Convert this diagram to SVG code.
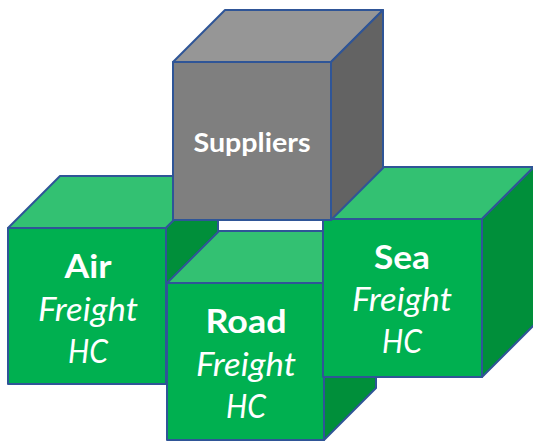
<svg xmlns="http://www.w3.org/2000/svg" width="533" height="443" viewBox="0 0 533 443">
<style>
.e{stroke:#2F5597;stroke-width:2;stroke-linejoin:round}
.gf{fill:#00B050}.gt{fill:#33C172}.gr{fill:#008F3A}
.sf{fill:#7F7F7F}.st{fill:#969696}.sr{fill:#636363}
.t{font-family:Lato,"Open Sans",sans-serif;fill:#fff;text-anchor:middle}
.b{font-weight:bold;font-size:33px}
.i{font-style:italic;font-size:32px}
</style>
<rect width="533" height="443" fill="#fff"/>
<g id="air">
<polygon class="e gt" points="8,228 60,176 218,176 166,228"/>
<polygon class="e gr" points="166,228 218,176 218,332 166,384"/>
<rect class="e gf" x="8" y="228" width="158" height="156"/>
<text class="t b" x="88" y="278" textLength="47" lengthAdjust="spacingAndGlyphs">Air</text>
<text class="t i" x="88" y="321" textLength="100" lengthAdjust="spacingAndGlyphs">Freight</text>
<text class="t i" x="88" y="363" textLength="40" lengthAdjust="spacingAndGlyphs">HC</text>
</g>
<g id="road">
<polygon class="e gt" points="167,283 219,231 377,231 325,283"/>
<polygon class="e gr" points="324,283 376,231 376,388 324,440"/>
<rect class="e gf" x="167" y="283" width="157" height="157"/>
<text class="t b" x="246" y="333" textLength="81" lengthAdjust="spacingAndGlyphs">Road</text>
<text class="t i" x="246" y="376" textLength="100" lengthAdjust="spacingAndGlyphs">Freight</text>
<text class="t i" x="246" y="418" textLength="40" lengthAdjust="spacingAndGlyphs">HC</text>
</g>
<g id="sea">
<polygon class="e gt" points="323,219 375,167 534,167 482,219"/>
<polygon class="e gr" points="482,219 534,167 534,325 482,377"/>
<rect class="e gf" x="323" y="219" width="159" height="158"/>
<text class="t b" x="402" y="269" textLength="56" lengthAdjust="spacingAndGlyphs">Sea</text>
<text class="t i" x="402" y="311" textLength="100" lengthAdjust="spacingAndGlyphs">Freight</text>
<text class="t i" x="402" y="353" textLength="40" lengthAdjust="spacingAndGlyphs">HC</text>
</g>
<g id="suppliers">
<polygon class="e st" points="173,62 225,10 383,10 331,62"/>
<polygon class="e sr" points="331,62 383,10 383,168 331,220"/>
<rect class="e sf" x="173" y="62" width="158" height="158"/>
<text class="t" x="252" y="152" font-weight="bold" font-size="27" textLength="117" lengthAdjust="spacingAndGlyphs">Suppliers</text>
</g>
<g id="connectors"/>
</svg>
